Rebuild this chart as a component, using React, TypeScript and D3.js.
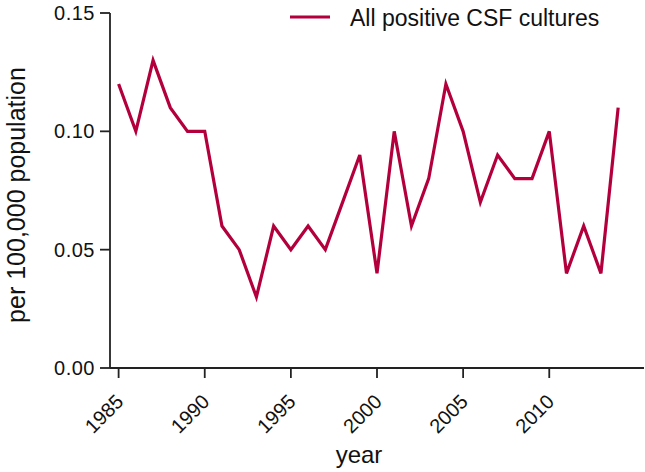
import React from "react";
import * as d3 from "d3";

const years = [1985,1986,1987,1988,1989,1990,1991,1992,1993,1994,1995,1996,1997,1998,1999,2000,2001,2002,2003,2004,2005,2006,2007,2008,2009,2010,2011,2012,2013,2014];
const rates = [0.12,0.10,0.13,0.11,0.10,0.10,0.06,0.05,0.03,0.06,0.05,0.06,0.05,0.07,0.09,0.04,0.10,0.06,0.08,0.12,0.10,0.07,0.09,0.08,0.08,0.10,0.04,0.06,0.04,0.11];
const xTicks = [1985,1990,1995,2000,2005,2010];
const yTicks = [0,0.05,0.10,0.15];
const seriesName = "All positive CSF cultures";

const W = 645, H = 472;
const FONT = "'Liberation Sans', Arial, Helvetica, sans-serif";
const LINE_COLOR = "#B3003C";
const AXIS_COLOR = "#222";

export default function App() {
  const x = d3.scaleLinear().domain([1984.5, 2015.5]).range([110, 644]);
  const y = d3.scaleLinear().domain([0, 0.15]).range([368, 13]);
  const line = d3.line<number>().x((_, i) => x(years[i])).y((d) => y(d));
  const path = line(rates) || "";

  return (
    <svg width={W} height={H} style={{ position: "absolute", left: 0, top: 0, background: "#fff" }} fontFamily={FONT}>
      <rect width={W} height={H} fill="#fff" />
      {/* y axis */}
      <line x1={110} x2={110} y1={y(0.15)} y2={y(0)} stroke={AXIS_COLOR} strokeWidth={1.8} />
      {yTicks.map((t) => (
        <g key={t}>
          <line x1={100} x2={110} y1={y(t)} y2={y(t)} stroke={AXIS_COLOR} strokeWidth={1.8} />
          <text x={95} y={y(t)} dy="0.35em" textAnchor="end" fontSize={20} fill="#111" letterSpacing={0.5}>
            {d3.format(".2f")(t)}
          </text>
        </g>
      ))}
      {/* x axis */}
      <line x1={110} x2={644} y1={368} y2={368} stroke={AXIS_COLOR} strokeWidth={1.8} />
      {xTicks.map((t) => (
        <g key={t}>
          <line x1={x(t)} x2={x(t)} y1={368} y2={378} stroke={AXIS_COLOR} strokeWidth={1.8} />
          <text
            transform={`translate(${x(t) + 6},${403}) rotate(-45)`}
            textAnchor="end"
            fontSize={20}
            fill="#111"
          >
            {t}
          </text>
        </g>
      ))}
      {/* axis titles */}
      <text x={359} y={463} textAnchor="middle" fontSize={24} fill="#111">year</text>
      <text transform={`translate(25,195) rotate(-90)`} textAnchor="middle" fontSize={25} fill="#111">
        per 100,000 population
      </text>
      {/* data line */}
      <path d={path} fill="none" stroke={LINE_COLOR} strokeWidth={3.2} strokeLinejoin="miter" />
      {/* legend */}
      <line x1={290} x2={330} y1={17} y2={17} stroke={LINE_COLOR} strokeWidth={3.2} />
      <text x={350} y={26} fontSize={23} fill="#111">{seriesName}</text>
    </svg>
  );
}
